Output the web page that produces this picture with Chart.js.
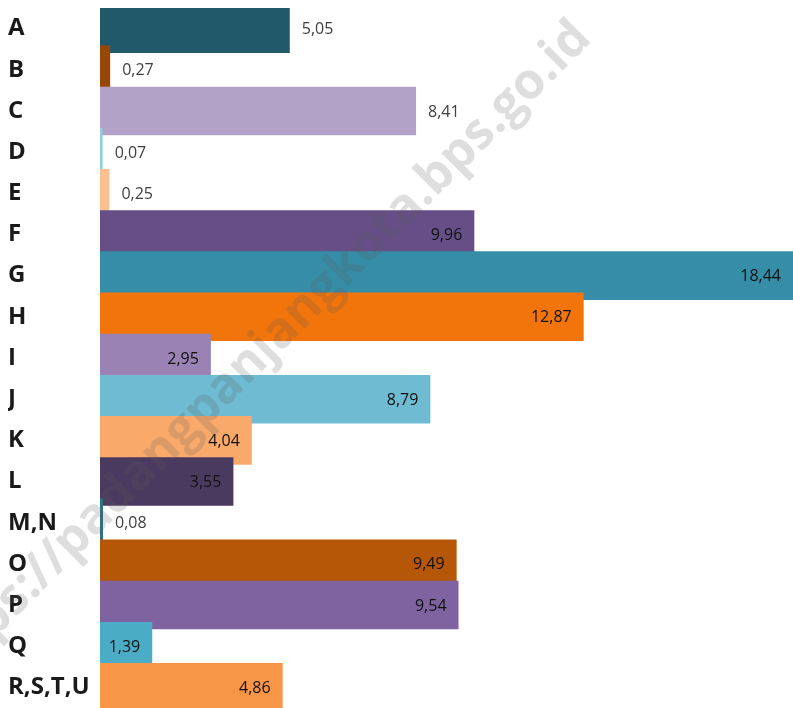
<!DOCTYPE html>
<html>
<head>
<meta charset="utf-8">
<script src="https://cdn.jsdelivr.net/npm/chart.js@4/dist/chart.umd.min.js"></script>
<style>
  html, body { margin: 0; padding: 0; background: #ffffff; }
  #wrap { width: 793px; height: 708px; position: relative; }
</style>
</head>
<body>
<div id="wrap"><canvas id="c"></canvas></div>
<script>
const categories = ["A","B","C","D","E","F","G","H","I","J","K","L","M,N","O","P","Q","R,S,T,U"];
const values = [5.05,0.27,8.41,0.07,0.25,9.96,18.44,12.87,2.95,8.79,4.04,3.55,0.08,9.49,9.54,1.39,4.86];
const barColors = ["#22596A","#974706","#B3A2C7","#93CDDD","#FAC090","#654F86","#368DA7","#F2750C",
                   "#9A82B4","#6FBBD1","#F9AA6B","#4B3A5F","#2E7282","#B65708","#7F63A1","#4BACC6","#F79646"];
const outsideLabelCats = ["A","B","C","D","E","M,N"];
const watermarkText = "https://padangpanjangkota.bps.go.id";

const fmt = v => v.toFixed(2).replace('.', ',');

const watermarkPlugin = {
  id: 'watermark',
  afterDatasetsDraw(chart) {
    const ctx = chart.ctx;
    ctx.save();
    ctx.font = "bold 50px 'Open Sans', sans-serif";
    ctx.fillStyle = "rgba(90,90,90,0.2)";
    ctx.textAlign = "right";
    ctx.textBaseline = "middle";
    ctx.translate(583, 30);
    ctx.rotate(-Math.PI / 4);
    ctx.fillText(watermarkText, 0, 0);
    ctx.restore();
  }
};

const valueLabelPlugin = {
  id: 'valueLabels',
  afterDraw(chart) {
    const ctx = chart.ctx;
    const meta = chart.getDatasetMeta(0);
    ctx.save();
    ctx.font = "16px 'Open Sans', sans-serif";
    ctx.textBaseline = "middle";
    meta.data.forEach((bar, i) => {
      const txt = fmt(values[i]);
      if (outsideLabelCats.includes(categories[i])) {
        ctx.fillStyle = "#404040";
        ctx.textAlign = "left";
        ctx.fillText(txt, bar.x + 12, bar.y + 1);
      } else {
        ctx.fillStyle = "#111111";
        ctx.textAlign = "right";
        ctx.fillText(txt, bar.x - 12, bar.y + 1);
      }
    });
    ctx.restore();
  }
};

new Chart(document.getElementById('c'), {
  type: 'bar',
  data: {
    labels: categories,
    datasets: [{
      data: values,
      backgroundColor: barColors,
      borderWidth: 0,
      categoryPercentage: 1.0,
      barPercentage: 1.18
    }]
  },
  options: {
    indexAxis: 'y',
    responsive: true,
    maintainAspectRatio: false,
    animation: false,
    layout: { padding: { top: 8, bottom: 0, left: 8, right: 0 } },
    plugins: {
      legend: { display: false },
      tooltip: { enabled: false }
    },
    scales: {
      x: {
        display: false,
        min: 0,
        max: 18.44
      },
      y: {
        grid: { display: false },
        border: { display: false },
        ticks: {
          crossAlign: 'far',
          padding: 8,
          color: '#1a1a1a',
          font: { family: "'Open Sans', sans-serif", size: 24, weight: 'bold' }
        },
        afterFit(scale) {
          scale.width = 92;
          scale.paddingTop = 0;
          scale.paddingBottom = 0;
        }
      }
    }
  },
  plugins: [watermarkPlugin, valueLabelPlugin]
});
</script>
</body>
</html>
